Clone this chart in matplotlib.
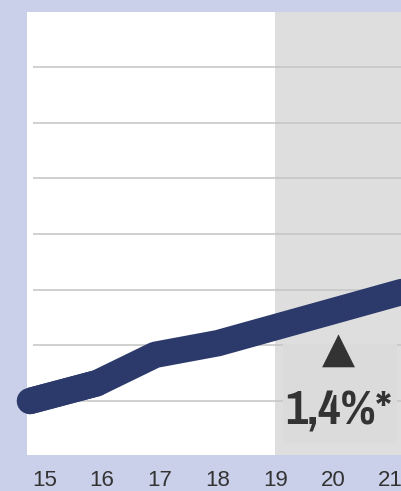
import matplotlib.pyplot as plt
from matplotlib.patches import Rectangle

# data
years = [14.75, 15.91, 16.92, 18.01, 21.3]
values = [1.0, 1.32, 1.83, 2.04, 2.99]
tick_pos = [15, 16, 17, 18, 19, 20, 21]
tick_labels = ["15", "16", "17", "18", "19", "20", "21"]
grid_vals = [1, 2, 3, 4, 5, 6, 7]
forecast_start = 19
change_label = "1,4%*"

bg = '#cbd0ea'
navy = '#2c3a6b'

fig = plt.figure(figsize=(4.01, 4.91), dpi=100, facecolor=bg)
ax = fig.add_axes([27 / 401, 36 / 491, 374 / 401, 443 / 491])
ax.set_facecolor('white')
ax.set_xlim(14.70, 21.18)
ax.set_ylim(0.03, 7.99)

# forecast area
ax.axvspan(forecast_start, 22, color='#dedede', zorder=0, lw=0)

# grid lines (start a bit right of the axes edge)
ax.hlines(grid_vals, 14.80, 22, color='#c4c4c4', lw=1.1, zorder=1)

# box behind the annotation
ax.add_patch(Rectangle((19.13, 0.245), 1.98, 1.78, facecolor='#dbdbdb',
                       edgecolor='none', zorder=2))

ax.plot(years, values, color=navy, lw=19, solid_capstyle='round',
        solid_joinstyle='round', zorder=3, clip_on=True)
# round cap at start sticks out over the border
ax.plot(years[:2], values[:2], color=navy, lw=19, solid_capstyle='round',
        zorder=3, clip_on=False)

ax.text(20.10, 1.925, "▲", fontsize=31, color='#333333', ha='center', va='center',
        family='DejaVu Sans', zorder=4)
ax.text(20.10, 0.587, change_label, fontsize=38, fontweight='bold', color='#333333',
        ha='center', va='baseline',
        family=['Pragati Narrow', 'PT Sans Narrow', 'DejaVu Sans'], zorder=4)

ax.set_xticks(tick_pos)
ax.set_xticklabels(tick_labels, family='Liberation Sans', fontsize=16, color='#333333')
ax.set_yticks([])
ax.tick_params(axis='x', length=0, pad=11)
for s in ax.spines.values():
    s.set_visible(False)

fig.savefig('out.png', dpi=100, facecolor=bg)
